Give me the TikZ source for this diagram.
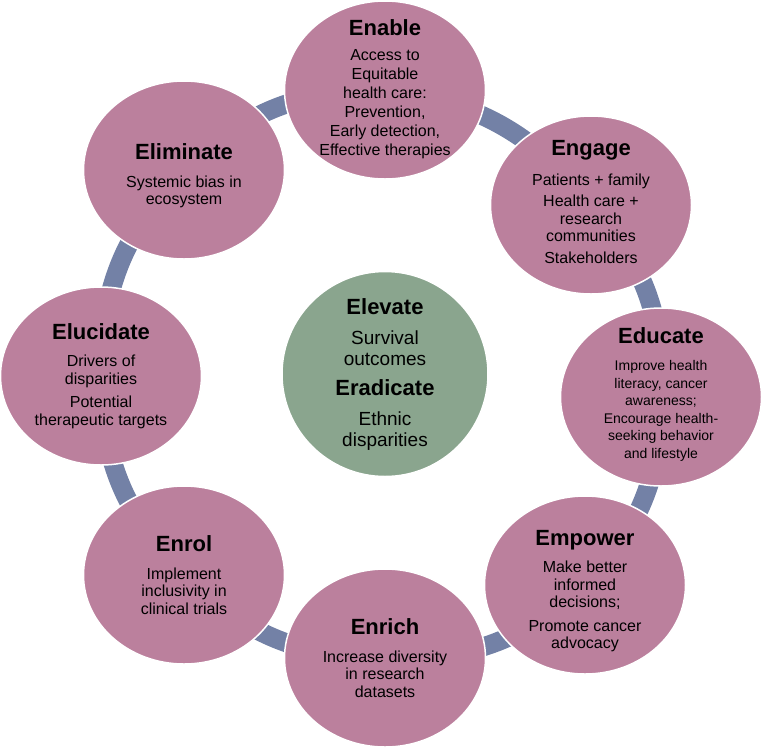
\documentclass[tikz,border=0pt]{standalone}
\usepackage{fontspec}
\setmainfont{Liberation Sans}
\usetikzlibrary{shapes.geometric,backgrounds}

\definecolor{petal}{RGB}{187,128,157}
\definecolor{core}{RGB}{138,165,142}
\definecolor{linkblue}{RGB}{115,129,166}

\newcommand{\bubtitle}[1]{{\fontsize{22}{24}\selectfont\bfseries #1}}

\begin{document}
\begin{tikzpicture}[x=1pt, y=-1pt,
  bubble/.style={ellipse, fill=petal, draw=white, line width=1.5pt,
    minimum width=201pt, minimum height=178pt, inner sep=0pt},
  hub/.style={bubble, fill=core, minimum width=206pt, minimum height=205pt},
  txt/.style={align=center, inner sep=0pt, font=\fontsize{16}{17.5}\selectfont},
  smalltxt/.style={txt, font=\fontsize{14}{17.5}\selectfont},
  ring/.style={linkblue, line width=19pt}]

  \useasboundingbox (0,0) rectangle (763,748);

  % the eight outer circles, clockwise from the top
  \node[bubble] (enable)    at (385,90)  {};
  \node[bubble] (engage)    at (591,205) {};
  \node[bubble] (educate)   at (661,397) {};
  \node[bubble] (empower)   at (585,585) {};
  \node[bubble] (enrich)    at (385,658) {};
  \node[bubble] (enrol)     at (184,575) {};
  \node[bubble] (elucidate) at (101,376) {};
  \node[bubble] (eliminate) at (184,170) {};

  % centre circle
  \node[hub] (hub) at (385,374) {};

  % ring segments behind the circles
  \begin{scope}[on background layer]
    \foreach \a/\b in {enable/engage, engage/educate, educate/empower,
      empower/enrich, enrich/enrol, enrol/elucidate, elucidate/eliminate,
      eliminate/enable} {
      \draw[ring] (\a.center) to[bend left=22] (\b.center);
    }
  \end{scope}

  % texts
  \node[txt, font=\fontsize{16}{19}\selectfont] (enable-t) at ([shift={(0,-1)}]enable) {\bubtitle{Enable}\\[6pt]
    Access to\\Equitable\\health care:\\Prevention,\\Early detection,\\Effective therapies};
  \node[txt] (engage-t) at ([shift={(0,-3)}]engage) {\bubtitle{Engage}\\[12pt]
    Patients + family\\[4pt]Health care +\\research\\communities\\[4pt]Stakeholders};
  \node[smalltxt] (educate-t) at ([shift={(0,-3)}]educate) {\bubtitle{Educate}\\[10pt]
    Improve health\\literacy, cancer\\awareness;\\Encourage health-\\seeking behavior\\and lifestyle};
  \node[txt] (empower-t) at ([shift={(0,6)}]empower) {\bubtitle{Empower}\\[10pt]
    Make better\\informed\\decisions;\\[6pt]Promote cancer\\advocacy};
  \node[txt] (enrich-t) at (enrich) {\bubtitle{Enrich}\\[10pt]
    Increase diversity\\in research\\datasets};
  \node[txt] (enrol-t) at (enrol) {\bubtitle{Enrol}\\[10pt]
    Implement\\inclusivity in\\clinical trials};
  \node[txt] (elucidate-t) at (elucidate) {\bubtitle{Elucidate}\\[10pt]
    Drivers of\\disparities\\[6pt]Potential\\therapeutic targets};
  \node[txt] (eliminate-t) at ([shift={(0,6)}]eliminate) {\bubtitle{Eliminate}\\[10pt]
    Systemic bias in\\ecosystem};
  \node[txt, font=\fontsize{19}{21}\selectfont] (hub-t) at (hub) {\bubtitle{Elevate}\\[9pt]
    Survival\\outcomes\\[9pt]\bubtitle{Eradicate}\\[9pt]Ethnic\\disparities};

\end{tikzpicture}
\end{document}
